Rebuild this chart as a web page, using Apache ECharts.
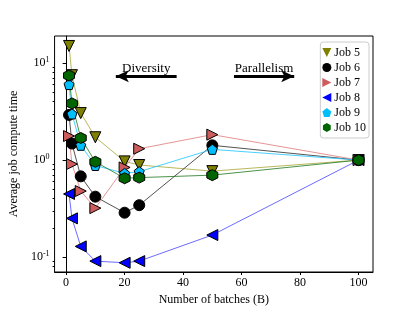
<!DOCTYPE html>
<html><head><meta charset="utf-8">
<script src="https://cdn.jsdelivr.net/npm/echarts@6/dist/echarts.min.js"></script>
<style>html,body{margin:0;padding:0;background:#fff}#c{width:415px;height:311px}</style>
</head><body><div id="c"></div>
<script>
const batches = [1, 2, 5, 10, 20, 25, 50, 100];
const job5 = [15, 7.5, 3.05, 1.72, 0.97, 0.89, 0.77, 1.0];
const job6 = [2.92, 1.48, 0.68, 0.42, 0.287, 0.343, 1.42, 1.0];
const job7 = [1.77, 0.91, 0.48, 0.32, 0.84, 1.31, 1.83, 1.0];
const job8 = [0.448, 0.251, 0.129, 0.091, 0.0875, 0.091, 0.169, 1.0];
const job9 = [6.0, 2.99, 1.42, 0.88, 0.73, 0.76, 1.29, 1.0];
const job10 = [7.44, 3.84, 1.69, 0.96, 0.65, 0.66, 0.70, 1.0];
const xTicks = [0, 20, 40, 60, 80, 100];
const yTicks = [0.1, 1, 10];
const yMinorTicks = [0.08, 0.09, 0.2, 0.3, 0.4, 0.5, 0.6, 0.7, 0.8, 0.9, 2, 3, 4, 5, 6, 7, 8, 9];

const SYM = {
  triDown: 'path://M0,0 L10,0 L5,10 Z',
  triRight: 'path://M0,0 L10,5 L0,10 Z',
  triLeft: 'path://M10,0 L0,5 L10,10 Z',
  pent: 'path://M5,0 L10,3.8 L8.1,10 L1.9,10 L0,3.8 Z',
  hex: 'path://M5,0 L9.33,2.5 L9.33,7.5 L5,10 L0.67,7.5 L0.67,2.5 Z'
};
const defs = [
  {name: 'Job 5', data: job5, color: '#808000', line: 'rgba(160,160,40,0.75)', sym: SYM.triDown, size: 11},
  {name: 'Job 6', data: job6, color: '#000000', line: 'rgba(40,40,40,0.8)', sym: 'circle', size: 11},
  {name: 'Job 7', data: job7, color: '#cd5c5c', line: 'rgba(225,130,130,0.85)', sym: SYM.triRight, size: 11},
  {name: 'Job 8', data: job8, color: '#0000ff', line: 'rgba(70,70,255,0.8)', sym: SYM.triLeft, size: 11},
  {name: 'Job 9', data: job9, color: '#00bfff', line: 'rgba(40,200,255,0.85)', sym: SYM.pent, size: 10},
  {name: 'Job 10', data: job10, color: '#006400', line: 'rgba(30,120,30,0.8)', sym: SYM.hex, size: 11}
];
const font = '"Liberation Serif", "DejaVu Serif", serif';
const series = defs.map(d => ({
  name: d.name, type: 'line',
  data: batches.map((b, i) => [b, d.data[i]]),
  symbol: d.sym, symbolSize: d.size, showAllSymbol: true,
  itemStyle: {color: d.color, borderColor: '#000', borderWidth: 1},
  lineStyle: {color: d.line, width: 1},
  emphasis: {disabled: true}, animation: false
}));
series.push({
  type: 'line', data: [], silent: true, animation: false,
  markLine: {
    silent: true, animation: false,
    symbol: ['none', 'arrow'], symbolSize: [9, 13],
    lineStyle: {color: '#000', width: 3, type: 'solid'},
    label: {show: true, position: 'middle', formatter: p => p.name, color: '#000',
      fontFamily: font, fontSize: 13, distance: 1},
    data: [
      [{name: 'Diversity', coord: [37.8, 7.3]}, {coord: [17.0, 7.3]}],
      [{name: 'Parallelism', coord: [57.4, 7.3]}, {coord: [78.0, 7.3]}]
    ]
  }
});
const chart = echarts.init(document.getElementById('c'), null, {renderer: 'canvas'});
chart.setOption({
  animation: false,
  backgroundColor: '#fff',
  grid: {left: 52, right: 42, top: 36, bottom: 36, show: true, borderColor: '#000', borderWidth: 1, backgroundColor: 'transparent'},
  legend: {
    orient: 'vertical', right: 46, top: 42,
    data: defs.map(d => ({name: d.name, icon: d.sym})),
    itemWidth: 9, itemHeight: 9, itemGap: 2,
    padding: [4, 3, 4, 2],
    borderColor: '#ccc', borderWidth: 1, borderRadius: 3,
    backgroundColor: '#fff',
    textStyle: {fontFamily: font, fontSize: 12, lineHeight: 13, color: '#000', padding: [0, 0, 0, -2]},
    itemStyle: {borderWidth: 0},
    selectedMode: false
  },
  xAxis: {
    type: 'value', min: -3.95, max: 104.95,
    name: 'Number of batches (B)', nameLocation: 'middle', nameGap: 22,
    nameTextStyle: {fontFamily: font, fontSize: 12, color: '#000'},
    axisLine: {lineStyle: {color: '#000'}},
    axisTick: {show: true, inside: false, length: 3, customValues: xTicks, lineStyle: {color: '#000'}},
    axisLabel: {customValues: xTicks, fontFamily: font, fontSize: 12, color: '#000', margin: 5},
    splitLine: {show: false}
  },
  yAxis: [{
    type: 'log', logBase: 10, min: 0.0703, max: 19,
    name: 'Average job compute time', nameLocation: 'middle', nameGap: 33,
    nameTextStyle: {fontFamily: font, fontSize: 12, color: '#000'},
    axisLine: {lineStyle: {color: '#000'}},
    axisTick: {show: true, inside: false, length: 3.5, customValues: yTicks, lineStyle: {color: '#000'}},
    axisLabel: {
      customValues: yTicks, margin: 5, color: '#000',
      formatter: v => '{b|10}{s|' + Math.round(Math.log10(v)) + '}',
      rich: {b: {fontFamily: font, fontSize: 12, color: '#000'},
             s: {fontFamily: font, fontSize: 8, color: '#000', verticalAlign: 'top', padding: [0, 0, 6, 0]}}
    },
    splitLine: {show: false}
  }, {
    type: 'log', logBase: 10, min: 0.0703, max: 19, position: 'left',
    axisLine: {show: false},
    axisTick: {show: true, inside: false, length: 2, customValues: yMinorTicks, lineStyle: {color: '#000'}},
    axisLabel: {show: false, customValues: yMinorTicks},
    splitLine: {show: false}
  }],
  series: series
});
</script></body></html>
